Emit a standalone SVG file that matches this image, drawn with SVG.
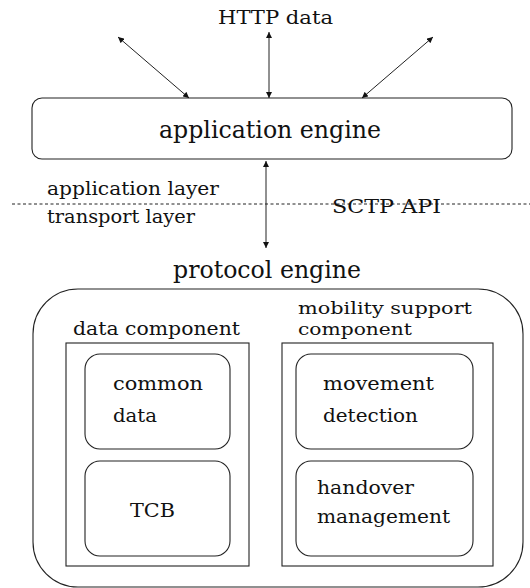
<svg xmlns="http://www.w3.org/2000/svg" width="530" height="588" viewBox="0 0 530 588">
<style>
.s{font-size:19px}
.m{font-size:17px}
.b{font-size:24px}
.box{fill:none;stroke:#222;stroke-width:1.1}
.ln{stroke:#222;stroke-width:1;fill:none}
</style>
<defs>
<marker id="ah" viewBox="0 0 10 10" refX="10" refY="5" markerWidth="7" markerHeight="6" markerUnits="userSpaceOnUse" orient="auto-start-reverse">
<path d="M0,0 L10,5 L0,10 z" fill="#111"/>
</marker>
</defs>
<rect width="530" height="588" fill="#fff"/>
<g font-family="'DejaVu Serif', 'Liberation Serif', serif" fill="#111">
<text class="s" x="218" y="24" textLength="115" lengthAdjust="spacingAndGlyphs">HTTP data</text>
<g id="app-engine">
<rect class="box" x="32" y="98" width="480" height="61" rx="10"/>
<text class="b" x="159" y="138" textLength="222" lengthAdjust="spacingAndGlyphs">application engine</text>
</g>
<g id="layers">
<line x1="12" y1="204" x2="530" y2="204" stroke="#222" stroke-width="1" stroke-dasharray="3,2.5"/>
<text class="s" x="47" y="195" textLength="172" lengthAdjust="spacingAndGlyphs">application layer</text>
<text class="s" x="47" y="223" textLength="148" lengthAdjust="spacingAndGlyphs">transport layer</text>
<text class="s" x="332" y="213" textLength="109" lengthAdjust="spacingAndGlyphs">SCTP API</text>
</g>
<g id="connectors">
<line class="ln" x1="269" y1="98" x2="269" y2="32" marker-start="url(#ah)" marker-end="url(#ah)"/>
<line class="ln" x1="189" y1="98" x2="118" y2="37" marker-start="url(#ah)" marker-end="url(#ah)"/>
<line class="ln" x1="362" y1="98" x2="433" y2="37" marker-start="url(#ah)" marker-end="url(#ah)"/>
<line class="ln" x1="266" y1="161" x2="266" y2="248" marker-start="url(#ah)" marker-end="url(#ah)"/>
</g>
<g id="protocol-engine">
<text class="b" x="173" y="278" textLength="188" lengthAdjust="spacingAndGlyphs">protocol engine</text>
<rect class="box" x="33" y="289" width="490" height="298" rx="45" ry="45"/>
</g>
<g id="data-component">
<text class="s" x="73" y="335" textLength="167" lengthAdjust="spacingAndGlyphs">data component</text>
<rect class="box" x="66" y="343" width="183" height="223"/>
</g>
<g id="common-data">
<rect class="box" x="85" y="354" width="145" height="95" rx="15"/>
<text class="s" x="113" y="390" textLength="90" lengthAdjust="spacingAndGlyphs">common</text>
<text class="s" x="113" y="422" textLength="44" lengthAdjust="spacingAndGlyphs">data</text>
</g>
<g id="tcb">
<rect class="box" x="85" y="461" width="145" height="95" rx="15"/>
<text class="s" x="130" y="517" textLength="45" lengthAdjust="spacingAndGlyphs">TCB</text>
</g>
<g id="mobility-component">
<text class="m" x="298" y="314" textLength="174" lengthAdjust="spacingAndGlyphs">mobility support</text>
<text class="m" x="298" y="335" textLength="114" lengthAdjust="spacingAndGlyphs">component</text>
<rect class="box" x="282" y="343" width="211" height="223"/>
</g>
<g id="movement-detection">
<rect class="box" x="296" y="354" width="177" height="95" rx="15"/>
<text class="s" x="323" y="390" textLength="111" lengthAdjust="spacingAndGlyphs">movement</text>
<text class="s" x="323" y="422" textLength="95" lengthAdjust="spacingAndGlyphs">detection</text>
</g>
<g id="handover-management">
<rect class="box" x="296" y="461" width="177" height="95" rx="15"/>
<text class="s" x="317" y="494" textLength="97" lengthAdjust="spacingAndGlyphs">handover</text>
<text class="s" x="317" y="523" textLength="133" lengthAdjust="spacingAndGlyphs">management</text>
</g>
</g>
</svg>
